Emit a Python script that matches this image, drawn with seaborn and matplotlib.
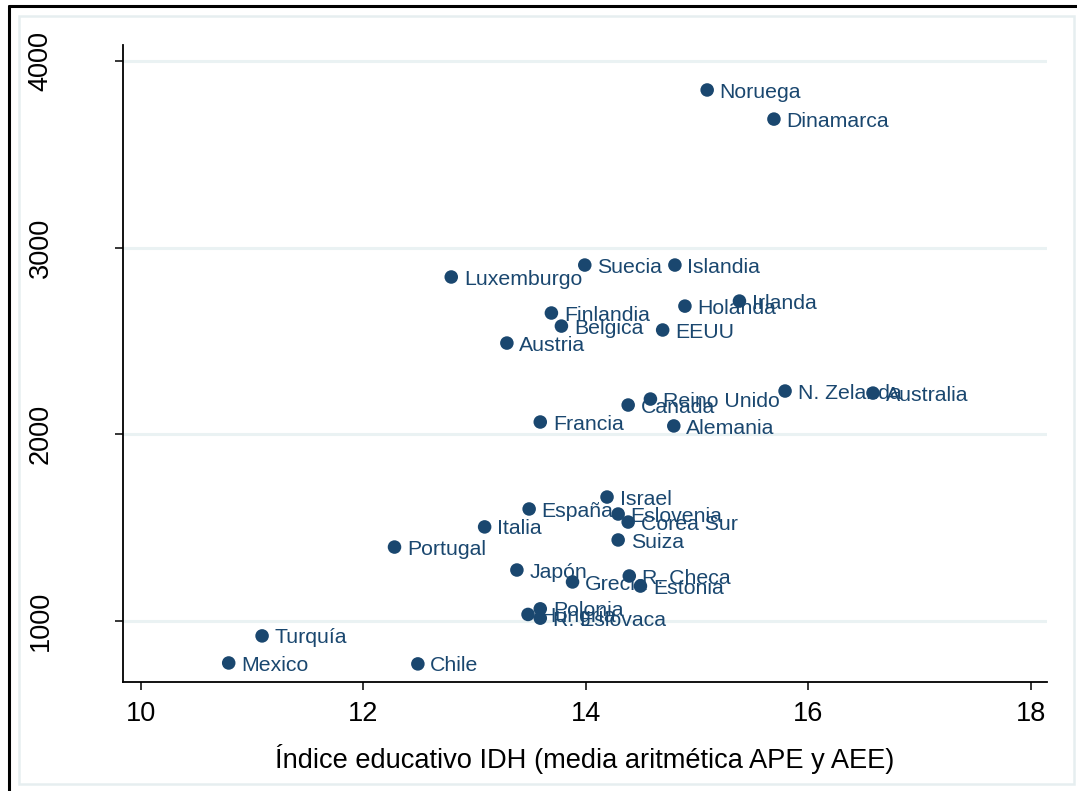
import matplotlib
matplotlib.use("Agg")
import matplotlib.pyplot as plt
import seaborn as sns
import pandas as pd
from matplotlib.lines import Line2D
from matplotlib.patches import Rectangle

# Countries, education index (x) and spending per student (y)
paises = [
    "Noruega", "Dinamarca", "Suecia", "Islandia", "Luxemburgo", "Holanda",
    "Irlanda", "Finlandia", "Belgica", "EEUU", "Austria", "N. Zelanda",
    "Australia", "Reino Unido", "Canada", "Francia", "Alemania", "Israel",
    "España", "Eslovenia", "Corea Sur", "Italia", "Suiza", "Portugal",
    "Japón", "Grecia", "R. Checa", "Estonia", "Polonia", "Hungría",
    "R. Eslovaca", "Turquía", "Mexico", "Chile",
]
indice_educativo = [
    15.09, 15.69, 13.99, 14.80, 12.79, 14.89,
    15.38, 13.69, 13.78, 14.69, 13.29, 15.79,
    16.58, 14.58, 14.38, 13.59, 14.79, 14.19,
    13.49, 14.29, 14.38, 13.09, 14.29, 12.28,
    13.38, 13.88, 14.39, 14.49, 13.59, 13.48,
    13.59, 11.09, 10.79, 12.49,
]
gasto = [
    3845, 3689, 2907, 2907, 2843, 2687,
    2714, 2650, 2580, 2559, 2489, 2232,
    2221, 2189, 2157, 2066, 2045, 1664,
    1600, 1573, 1530, 1504, 1434, 1396,
    1273, 1209, 1241, 1187, 1065, 1035,
    1015, 920, 775, 770,
]
x_ticks = [10, 12, 14, 16, 18]
y_ticks = [1000, 2000, 3000, 4000]
x_label = "Índice educativo IDH (media aritmética APE y AEE)"

df = pd.DataFrame({"pais": paises, "x": indice_educativo, "y": gasto})

navy = "#1a476f"
grid_col = "#eaf2f3"

sns.set_theme(style="white")
plt.rcParams["font.family"] = ["Liberation Sans", "DejaVu Sans"]

W, H = 1077, 791
fig = plt.figure(figsize=(W / 100, H / 100), dpi=100)
ax = fig.add_axes([123 / W, 1 - 682 / H, (1047 - 123) / W, (682 - 45) / H])

sns.scatterplot(data=df, x="x", y="y", ax=ax, color=navy, s=95,
                edgecolor="none", linewidth=0, zorder=3)

for _, r in df.iterrows():
    ax.annotate(r["pais"], (r["x"], r["y"]), xytext=(9, -1.5),
                textcoords="offset points", ha="left", va="center",
                fontsize=15.3, color=navy, zorder=4)

ax.set_xlim(9.84, 18.144)
ax.set_ylim(673, 4086)
ax.set_xticks(x_ticks)
ax.set_yticks(y_ticks)
ax.set_yticklabels([str(v) for v in y_ticks], rotation=90, va="center")

for v in y_ticks:
    ax.axhline(v, color=grid_col, linewidth=2.2, zorder=0)

for side in ["top", "right"]:
    ax.spines[side].set_visible(False)
for side in ["left", "bottom"]:
    ax.spines[side].set_color("black")
    ax.spines[side].set_linewidth(1.3)

ax.tick_params(axis="both", which="major", direction="out", length=6,
               width=1.1, color="black", labelsize=19.5, labelcolor="black")
ax.tick_params(axis="x", pad=8, bottom=True)
ax.tick_params(axis="y", pad=44, left=True)

ax.set_xlabel(x_label, fontsize=19.6, color="black", labelpad=12)
ax.set_ylabel("")

# Graph frame: light inner border and dark outer edges
fig.patches.append(Rectangle((19 / W, 1 - 784 / H), (1074 - 19) / W,
                             (784 - 16) / H, transform=fig.transFigure,
                             fill=False, edgecolor="#e6eef0", linewidth=1.8))
fig.lines.append(Line2D([9 / W, 9 / W], [0, 1 - 6 / H], transform=fig.transFigure,
                        color="black", linewidth=2.2))
fig.lines.append(Line2D([9 / W, 1], [1 - 6 / H, 1 - 6 / H], transform=fig.transFigure,
                        color="black", linewidth=2.2))

fig.savefig("out.png", dpi=100, facecolor="white")
